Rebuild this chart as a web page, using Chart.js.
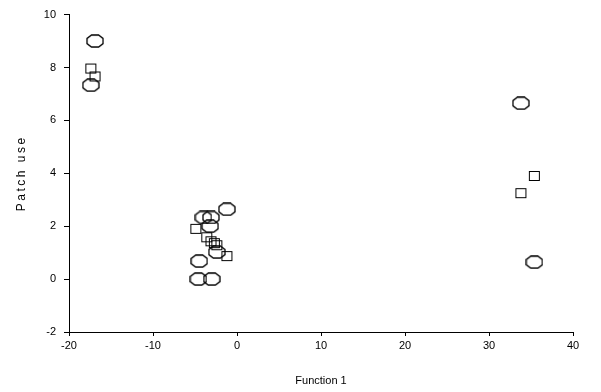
<!DOCTYPE html>
<html>
<head>
<meta charset="utf-8">
<script src="https://cdn.jsdelivr.net/npm/chart.js@4.4.1/dist/chart.umd.min.js"></script>
<style>
  html, body { margin: 0; padding: 0; background: #fff; }
  #wrap { width: 601px; height: 392px; }
</style>
</head>
<body>
<div id="wrap"><canvas id="chart" width="601" height="392"></canvas></div>
<script>
// octagon markers
const octX = [-16.9, -17.4, 33.8, 35.4, -1.2, -4.0, -3.1, -3.2, -2.4, -4.5, -4.6, -3.0];
const octY = [9.0, 7.33, 6.65, 0.64, 2.64, 2.33, 2.33, 2.0, 1.02, 0.68, 0.0, 0.0];
// square markers
const sqX = [-17.4, -16.9, 35.4, 33.8, -4.9, -3.6, -3.1, -2.7, -2.4, -1.2];
const sqY = [7.96, 7.66, 3.9, 3.25, 1.9, 1.58, 1.43, 1.36, 1.28, 0.87];

const xTicks = [-20, -10, 0, 10, 20, 30, 40];
const yTicks = [-2, 0, 2, 4, 6, 8, 10];

const FONT = "'Liberation Sans', Arial, sans-serif";

function makeOctagon(w, h) {
  const c = document.createElement('canvas');
  c.width = w + 2;
  c.height = h + 2;
  const g = c.getContext('2d');
  const cx = w * 0.28, cy = h * 0.28;
  const x0 = 1, y0 = 1;
  g.beginPath();
  g.moveTo(x0 + cx, y0);
  g.lineTo(x0 + w - cx, y0);
  g.lineTo(x0 + w, y0 + cy);
  g.lineTo(x0 + w, y0 + h - cy);
  g.lineTo(x0 + w - cx, y0 + h);
  g.lineTo(x0 + cx, y0 + h);
  g.lineTo(x0, y0 + h - cy);
  g.lineTo(x0, y0 + cy);
  g.closePath();
  g.strokeStyle = '#000';
  g.lineWidth = 1.3;
  g.stroke();
  return c;
}

function makeSquare(w, h) {
  const c = document.createElement('canvas');
  c.width = w + 2;
  c.height = h + 2;
  const g = c.getContext('2d');
  g.strokeStyle = '#000';
  g.lineWidth = 1;
  g.strokeRect(1.5, 1.5, w - 1, h - 1);
  return c;
}

const toPoints = (xs, ys) => xs.map((x, i) => ({ x: x, y: ys[i] }));

const octImg = makeOctagon(16, 12);
const sqImg = makeSquare(11, 10);

// the y title is drawn with wide letter spacing in the original
function spacedTitle(scale) {
  if (scale._spaced) return;
  const orig = scale.drawTitle.bind(scale);
  scale.drawTitle = function () {
    this.ctx.save();
    this.ctx.letterSpacing = '2.5px';
    orig();
    this.ctx.restore();
  };
  scale._spaced = true;
}

new Chart(document.getElementById('chart').getContext('2d'), {
  type: 'scatter',
  data: {
    datasets: [
      {
        label: 'octagon',
        data: toPoints(octX, octY),
        pointStyle: octImg,
        pointRadius: 8,
      },
      {
        label: 'square',
        data: toPoints(sqX, sqY),
        pointStyle: sqImg,
        pointRadius: 6,
      },
    ],
  },
  options: {
    responsive: false,
    animation: false,
    clip: false,
    layout: { padding: { left: 10, top: 14, right: 28, bottom: 0 } },
    plugins: {
      legend: { display: false },
      tooltip: { enabled: false },
    },
    scales: {
      x: {
        type: 'linear',
        min: -20,
        max: 40,
        afterBuildTicks: (s) => { s.ticks = xTicks.map(v => ({ value: v })); },
        afterFit: (s) => { s.height = 60; },
        border: { color: '#000', width: 1 },
        grid: { drawOnChartArea: false, color: '#000', tickLength: 4 },
        ticks: { color: '#000', font: { family: FONT, size: 11 }, padding: 3, maxRotation: 0 },
        title: {
          display: true,
          text: 'Function 1',
          color: '#000',
          font: { family: FONT, size: 11 },
          padding: { top: 22 },
        },
      },
      y: {
        type: 'linear',
        min: -2,
        max: 10,
        afterBuildTicks: (s) => { s.ticks = yTicks.map(v => ({ value: v })); },
        afterFit: (s) => { s.width = 59; spacedTitle(s); },
        border: { color: '#000', width: 1 },
        grid: { drawOnChartArea: false, color: '#000', tickLength: 5 },
        ticks: { color: '#000', font: { family: FONT, size: 11 }, padding: 8 },
        title: {
          display: true,
          text: 'Patch use',
          color: '#000',
          font: { family: FONT, size: 12 },
          padding: { top: 4, bottom: 4 },
        },
      },
    },
  },
});
</script>
</body>
</html>
